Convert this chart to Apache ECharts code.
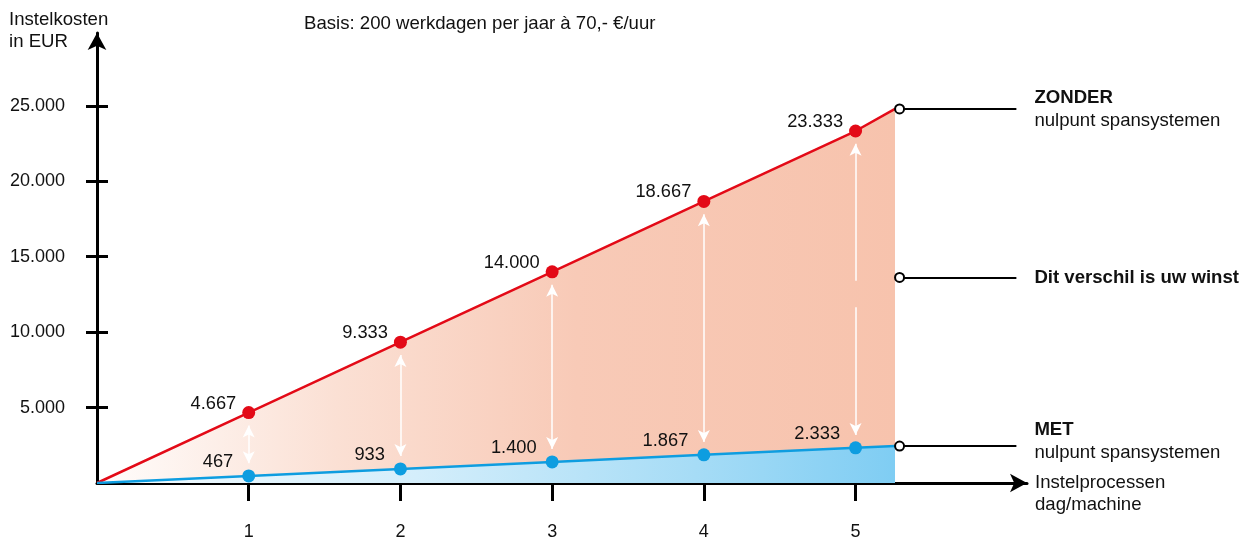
<!DOCTYPE html>
<html>
<head>
<meta charset="utf-8">
<script src="https://cdn.jsdelivr.net/npm/echarts@6/dist/echarts.min.js"></script>
<style>
  html, body { margin: 0; padding: 0; background: #fff; }
  #chart { width: 1250px; height: 541px; }
</style>
</head>
<body>
<div id="chart"></div>
<script>
// instelprocessen per dag/machine (0 = oorsprong, laatste = einde van de lijn)
const xValues = [0, 1, 2, 3, 4, 5, 5.26];
// instelkosten zonder nulpunt spansystemen
const zonder = [0, 4667, 9333, 14000, 18667, 23333, 24800];
// instelkosten met nulpunt spansystemen
const met = [0, 467, 933, 1400, 1867, 2333, 2450];
const xTicks = [1, 2, 3, 4, 5];
const yTicks = [5000, 10000, 15000, 20000, 25000];

const font = 'Liberation Sans, Arial, Helvetica, sans-serif';
const red = '#e30a17';
const blue = '#0e9de0';
const last = xValues.length - 1;

function fmt(v) {
  return String(Math.round(v)).replace(/\B(?=(\d{3})+(?!\d))/g, '.');
}

function points(values) {
  return xValues.map((x, i) => {
    let item = { value: [x, values[i]] };
    if (i === 0 || i === last) {
      item.symbol = 'none';
      item.label = { show: false };
    }
    return item;
  });
}

// witte pijlen tussen de twee lijnen
const pad = 850;
let arrows = [];
xTicks.forEach((x) => {
  let i = xValues.indexOf(x);
  let top = zonder[i] - pad, bottom = met[i] + pad;
  if (x === 5) {
    arrows.push([{ coord: [x, top], symbol: 'arrow' }, { coord: [x, 13400], symbol: 'none' }]);
    arrows.push([{ coord: [x, 11650], symbol: 'none' }, { coord: [x, bottom], symbol: 'arrow' }]);
  } else {
    arrows.push([{ coord: [x, top], symbol: 'arrow' }, { coord: [x, bottom], symbol: 'arrow' }]);
  }
});

const xEnd = 5.29, xLineEnd = 6.06;
const mid = (zonder[last] + met[last]) / 2;

let myChart = echarts.init(document.getElementById('chart'), null, { renderer: 'canvas' });
myChart.setOption({
  animation: false,
  textStyle: { fontFamily: font, color: '#111' },
  title: {
    text: 'Basis: 200 werkdagen per jaar à 70,- €/uur',
    left: 299, top: 9,
    textStyle: { fontSize: 18.6, fontWeight: 'normal', color: '#111', fontFamily: font }
  },
  grid: { left: 97, top: 33, right: 223, bottom: 57 },
  xAxis: [{
    type: 'value', min: 0, max: 6.13,
    splitLine: { show: false },
    axisLine: { show: true, lineStyle: { color: '#000', width: 3 }, symbol: ['none', 'arrow'], symbolSize: [14, 17] },
    axisTick: { show: true, customValues: xTicks, length: 18, lineStyle: { color: '#000', width: 3 } },
    axisLabel: { customValues: xTicks, margin: 40, fontSize: 18, color: '#111', fontFamily: font }
  }],
  yAxis: [{
    type: 'value', min: 0, max: 29830,
    splitLine: { show: false },
    axisLine: { show: true, lineStyle: { color: '#000', width: 3 }, symbol: ['none', 'arrow'], symbolSize: [14, 17] },
    axisTick: { show: true, customValues: yTicks, length: 11, lineStyle: { color: '#000', width: 3 } },
    axisLabel: { customValues: yTicks, margin: 32, fontSize: 18, color: '#111', fontFamily: font, formatter: fmt }
  }, {
    type: 'value', min: 0, max: 29830, position: 'left',
    splitLine: { show: false },
    axisLine: { show: false },
    axisTick: { show: true, inside: true, customValues: yTicks, length: 11, lineStyle: { color: '#000', width: 3 } },
    axisLabel: { show: false }
  }],
  graphic: [
    { type: 'text', left: 9, top: 9, style: { text: 'Instelkosten\nin EUR', font: '18.6px ' + font, lineHeight: 22, fill: '#111' } },
    { type: 'text', left: 1035, top: 472, style: { text: 'Instelprocessen\ndag/machine', font: '18.6px ' + font, lineHeight: 22, fill: '#111' } }
  ],
  series: [{
    name: 'zonder',
    type: 'line',
    z: 2,
    data: points(zonder),
    symbol: 'circle',
    symbolSize: 13,
    itemStyle: { color: red },
    lineStyle: { color: red, width: 2.5 },
    areaStyle: {
      opacity: 1,
      color: {
        type: 'linear', x: 0, y: 0, x2: 1, y2: 0,
        colorStops: [
          { offset: 0, color: '#fffdfc' },
          { offset: 0.3, color: '#fbe0d4' },
          { offset: 0.6, color: '#f8cab7' },
          { offset: 1, color: '#f7c3ad' }
        ]
      }
    },
    label: {
      show: true, position: 'left', distance: 6, offset: [0, -9],
      fontSize: 18.3, color: '#111', fontFamily: font,
      formatter: (p) => fmt(p.value[1])
    },
    markLine: {
      silent: true,
      symbol: ['emptyCircle', 'none'],
      symbolSize: 9,
      lineStyle: { color: '#000', width: 2, type: 'solid' },
      label: {
        show: true, position: 'end', distance: 18, color: '#111', fontFamily: font,
        rich: {
          b: { fontSize: 18.6, fontWeight: 'bold', lineHeight: 23, fontFamily: font, color: '#111' },
          n: { fontSize: 18.6, lineHeight: 23, fontFamily: font, color: '#111' }
        }
      },
      data: [
        [{ coord: [xEnd, zonder[last]], label: { formatter: '{b|ZONDER}\n{n|nulpunt spansystemen}' } }, { coord: [xLineEnd, zonder[last]] }],
        [{ coord: [xEnd, mid], label: { formatter: '{b|Dit verschil is uw winst}' } }, { coord: [xLineEnd, mid] }]
      ]
    }
  }, {
    name: 'met',
    type: 'line',
    z: 3,
    data: points(met),
    symbol: 'circle',
    symbolSize: 13,
    itemStyle: { color: blue },
    lineStyle: { color: blue, width: 2.5 },
    areaStyle: {
      opacity: 1,
      color: {
        type: 'linear', x: 0, y: 0, x2: 1, y2: 0,
        colorStops: [
          { offset: 0, color: '#f4fbfe' },
          { offset: 0.4, color: '#d4eefb' },
          { offset: 0.75, color: '#a6dcf6' },
          { offset: 1, color: '#7fcdf3' }
        ]
      }
    },
    label: {
      show: true, position: 'left', distance: 9, offset: [0, -14],
      fontSize: 18.3, color: '#111', fontFamily: font,
      formatter: (p) => fmt(p.value[1])
    },
    markLine: {
      silent: true,
      symbol: ['emptyCircle', 'none'],
      symbolSize: 9,
      lineStyle: { color: '#000', width: 2, type: 'solid' },
      label: {
        show: true, position: 'end', distance: 18, padding: [0, 0, 10, 0], color: '#111', fontFamily: font,
        rich: {
          b: { fontSize: 18.6, fontWeight: 'bold', lineHeight: 23, fontFamily: font, color: '#111' },
          n: { fontSize: 18.6, lineHeight: 23, fontFamily: font, color: '#111' }
        }
      },
      data: [
        [{ coord: [xEnd, met[last]], label: { formatter: '{b|MET}\n{n|nulpunt spansystemen}' } }, { coord: [xLineEnd, met[last]] }]
      ]
    }
  }, {
    // witte dubbele pijlen
    name: 'verschil',
    type: 'line',
    z: 4,
    data: [],
    markLine: {
      silent: true,
      symbolSize: [9, 12],
      lineStyle: { color: '#fff', width: 1.5, type: 'solid' },
      label: { show: false },
      data: arrows
    }
  }]
});
</script>
</body>
</html>
